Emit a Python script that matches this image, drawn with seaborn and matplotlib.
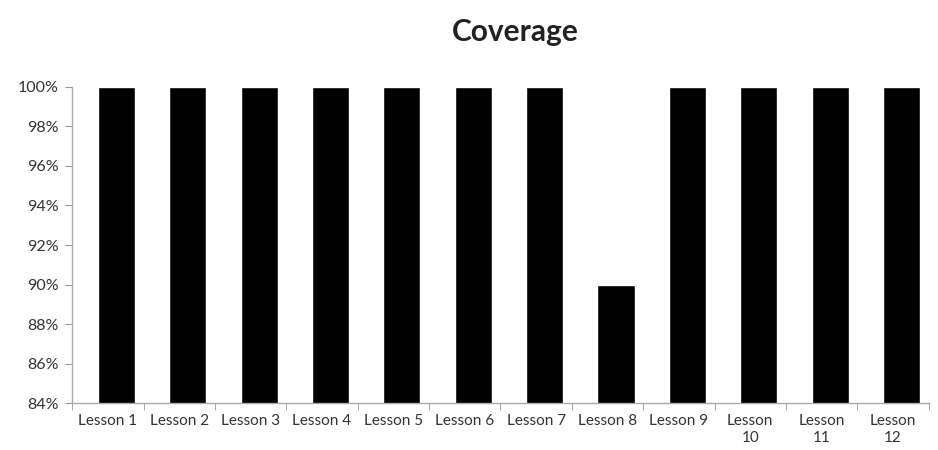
import matplotlib
matplotlib.use("Agg")
import matplotlib.pyplot as plt
import seaborn as sns
import pandas as pd
from matplotlib.ticker import FuncFormatter, FixedLocator

lessons = ["Lesson 1", "Lesson 2", "Lesson 3", "Lesson 4", "Lesson 5", "Lesson 6",
           "Lesson 7", "Lesson 8", "Lesson 9", "Lesson\n10", "Lesson\n11", "Lesson\n12"]
coverage = [100, 100, 100, 100, 100, 100, 100, 90, 100, 100, 100, 100]

sns.set_style("white")
plt.rcParams["font.family"] = ["Lato", "DejaVu Sans"]

df = pd.DataFrame({"lesson": lessons, "coverage": coverage})

fig = plt.figure(figsize=(9.38, 4.5), dpi=100)
ax = fig.add_axes([0.077, 0.104, 0.913, 0.703])

sns.barplot(data=df, x="lesson", y="coverage", color="black", width=0.52,
            saturation=1, ax=ax)
# nudge bars right a little, like the perspective in the original
for p in ax.patches:
    p.set_x(p.get_x() + 0.12)

ax.set_ylim(84, 100)
ax.set_xlim(-0.5, len(lessons) - 0.5)
ax.set_yticks(range(84, 101, 2))
ax.yaxis.set_major_formatter(FuncFormatter(lambda v, _: f"{v:.0f}%"))
ax.xaxis.set_minor_locator(FixedLocator([i - 0.5 for i in range(len(lessons) + 1)]))
ax.tick_params(axis="x", which="major", bottom=True, length=0, pad=8,
               labelsize=11, colors="#333333")
ax.tick_params(axis="x", which="minor", bottom=True, length=5, color="#999999",
               direction="out")
ax.tick_params(axis="y", left=True, length=5, direction="out", labelsize=11.5,
               labelcolor="#333333", color="#999999", pad=5)

for s in ["top", "right"]:
    ax.spines[s].set_visible(False)
for s in ["left", "bottom"]:
    ax.spines[s].set_color("#aaaaaa")
    ax.spines[s].set_linewidth(1)

ax.set_xlabel("")
ax.set_ylabel("")
fig.suptitle("Coverage", x=0.549, y=0.96, fontsize=21.5, fontweight="bold", color="#222222")

fig.savefig("out.png", dpi=100)
